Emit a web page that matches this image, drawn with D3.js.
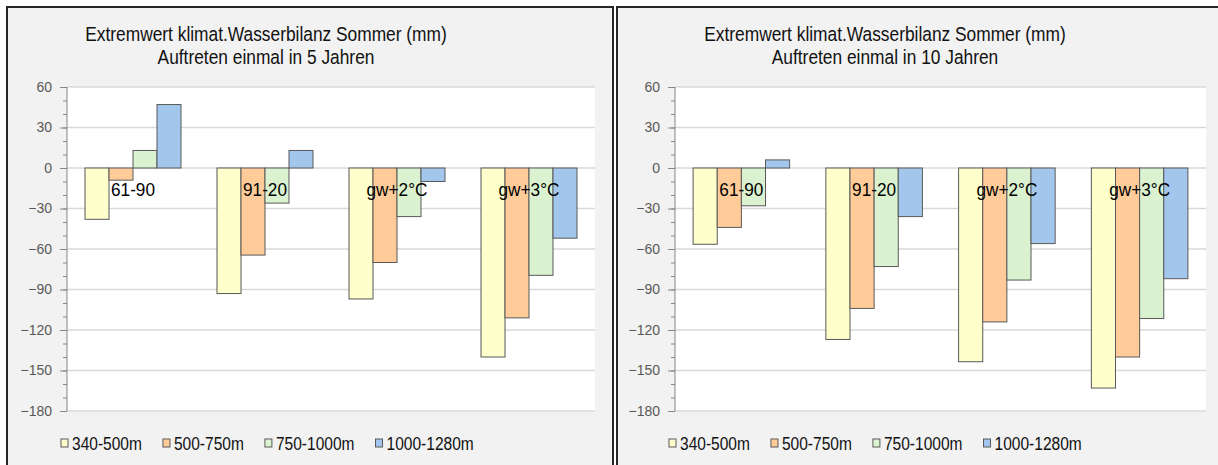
<!DOCTYPE html>
<html>
<head>
<meta charset="utf-8">
<script src="https://cdn.jsdelivr.net/npm/d3@7"></script>
<style>
  html, body { margin: 0; padding: 0; background: #fff; }
  svg { display: block; font-family: "Liberation Sans", Arial, sans-serif; }
</style>
</head>
<body>
<svg id="chart"></svg>
<script>
const categories = ["61-90", "91-20", "gw+2°C", "gw+3°C"];
const seriesNames = ["340-500m", "500-750m", "750-1000m", "1000-1280m"];
const seriesColors = ["#ffffcc", "#ffcc99", "#daf2d0", "#a3c7ec"];

const titleLine1 = "Extremwert klimat.Wasserbilanz Sommer (mm)";
const titleLine2_5 = "Auftreten einmal in 5 Jahren";
const titleLine2_10 = "Auftreten einmal in 10 Jahren";

// one row per height class, one value per category
const values5 = [
    [-38, -93, -97, -140],
    [-9, -64.5, -70, -111],
    [13, -26, -36, -79.5],
    [47, 13, -10, -52]
];
const values10 = [
    [-56.5, -127, -143.5, -163],
    [-44, -104, -114, -140],
    [-28, -73, -83, -111.5],
    [6, -36, -56, -82]
];

const yTicks = [60, 30, 0, -30, -60, -90, -120, -150, -180];
const yMinorTicks = d3.range(-180, 61, 10);

const width = 1218, height = 465;

const svg = d3.select("#chart")
    .attr("width", width)
    .attr("height", height)
    .attr("viewBox", [0, 0, width, height]);

const panels = [
    { left: 6, right: 614, plotL: 67, plotR: 595, titleX: 266, title2: titleLine2_5, values: values5 },
    { left: 616, right: 1230, plotL: 675, plotR: 1206, titleX: 885, title2: titleLine2_10, values: values10 }
];

const y = d3.scaleLinear().domain([-180, 60]).range([411, 87]);

function squeeze(sel, x, yy, s) {
    sel.attr("transform", `translate(${x},${yy}) scale(${s},1)`);
}

panels.forEach(p => {
    const g = svg.append("g");

    // chart area
    g.append("rect")
        .attr("x", p.left + 1).attr("y", 7)
        .attr("width", p.right - p.left - 2).attr("height", height)
        .attr("fill", "#f2f2f2")
        .attr("stroke", "#262626")
        .attr("stroke-width", 2);

    // title
    g.append("text").text(titleLine1)
        .attr("text-anchor", "middle")
        .style("font-size", "19.5px").style("fill", "#111")
        .call(squeeze, p.titleX, 41, 0.89);
    g.append("text").text(p.title2)
        .attr("text-anchor", "middle")
        .style("font-size", "19.5px").style("fill", "#111")
        .call(squeeze, p.titleX, 64, 0.89);

    // plot area
    g.append("rect")
        .attr("x", p.plotL).attr("y", y(60))
        .attr("width", p.plotR - p.plotL).attr("height", y(-180) - y(60))
        .attr("fill", "#fff");

    g.append("g")
        .selectAll("line")
        .data(yTicks)
        .join("line")
        .attr("x1", p.plotL).attr("x2", p.plotR)
        .attr("y1", d => y(d)).attr("y2", d => y(d))
        .attr("stroke", "#d9d9d9")
        .attr("stroke-width", 1.5);

    // y axis
    const axis = g.append("g")
        .attr("transform", `translate(${p.plotL},0)`)
        .call(d3.axisLeft(y).tickValues(yMinorTicks).tickSize(4).tickFormat(""));
    axis.select(".domain").remove();
    axis.selectAll("line").attr("stroke", "#868686");

    const major = g.append("g")
        .attr("transform", `translate(${p.plotL},0)`)
        .call(d3.axisLeft(y).tickValues(yTicks).tickSize(7).tickPadding(8));
    major.select(".domain").attr("stroke", "#868686").attr("d", `M0,${y(60)}V${y(-180)}`);
    major.selectAll("line").attr("stroke", "#868686");
    major.selectAll("text")
        .style("font-size", "14px")
        .style("font-family", "\"Liberation Sans\", Arial, sans-serif")
        .attr("fill", "#595959");

    // bars
    const x0 = d3.scaleBand().domain(categories).range([p.plotL, p.plotR])
        .paddingInner(1.5 / 5.5).paddingOuter(0.75 / 5.5);
    const x1 = d3.scaleBand().domain(seriesNames).range([0, x0.bandwidth()]);

    const rows = [];
    seriesNames.forEach((s, i) => {
        categories.forEach((c, j) => rows.push({ s, c, v: p.values[i][j], color: seriesColors[i] }));
    });

    g.append("g")
        .selectAll("rect")
        .data(rows)
        .join("rect")
        .attr("x", d => x0(d.c) + x1(d.s))
        .attr("y", d => y(Math.max(0, d.v)))
        .attr("width", x1.bandwidth())
        .attr("height", d => Math.abs(y(d.v) - y(0)))
        .attr("fill", d => d.color)
        .attr("stroke", "#595959")
        .attr("stroke-width", 1);

    // category labels
    g.append("g")
        .selectAll("text")
        .data(categories)
        .join("text")
        .text(d => d)
        .attr("text-anchor", "middle")
        .style("font-size", "18.5px")
        .style("fill", "#000")
        .each(function (d) {
            d3.select(this).call(squeeze, x0(d) + x0.bandwidth() / 2, y(0) + 28, 0.93);
        });

    // legend
    const legend = g.append("g");
    let lx = p.plotL - 6;
    seriesNames.forEach((s, i) => {
        legend.append("rect")
            .attr("x", lx).attr("y", 439)
            .attr("width", 7).attr("height", 8)
            .attr("fill", seriesColors[i])
            .attr("stroke", "#595959")
            .attr("stroke-width", 1);
        const t = legend.append("text").text(s)
            .style("font-size", "18.5px")
            .style("fill", "#111")
            .call(squeeze, lx + 11, 450, 0.84);
        lx += 11 + t.node().getComputedTextLength() * 0.84 + 21;
    });
});
</script>
</body>
</html>
